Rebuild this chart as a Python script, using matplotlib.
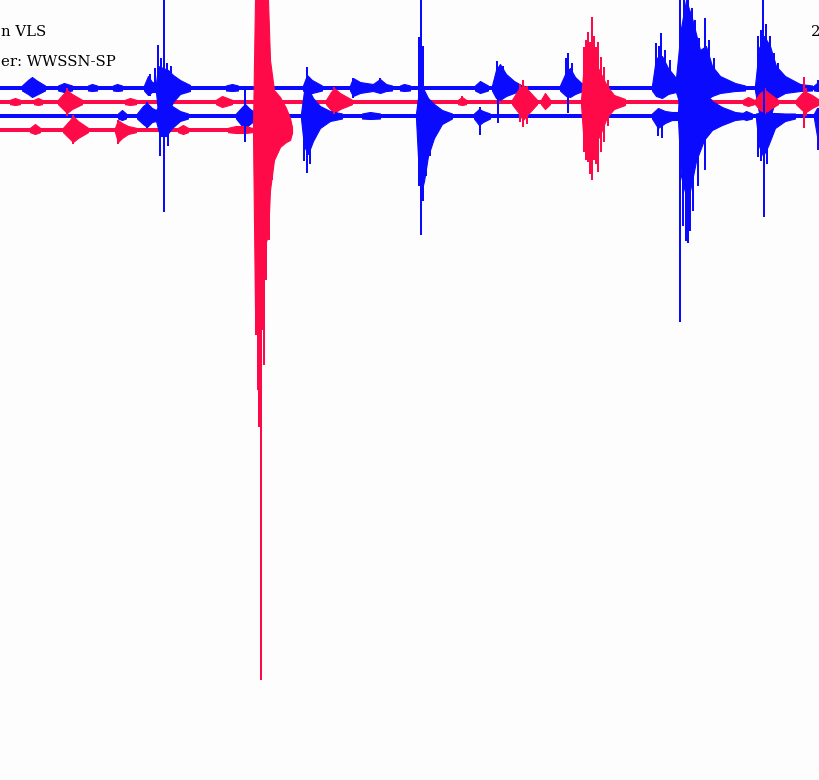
import matplotlib

matplotlib.use("Agg")

import matplotlib.pyplot as plt

# 4 helicorder lines (cropped view), x = time column, y = offset from top
trace_base = [88, 102, 116, 130]
trace_end = [820, 820, 820, 292]
trace_noise = [2.4, 2.2, 2.4, 2.2]
trace_color = ["#0a0aff", "#ff0a48", "#0a0aff", "#ff0a48"]

# envelope key points per event: (x, amplitude up, amplitude down)
t1_events = [
    [(22, 2.5, 2.5), (28, 8, 6), (32, 11, 9), (36, 8, 7), (45, 2.5, 2.5)],
    [(58, 2.5, 2.5), (64, 5, 4), (72, 2.5, 2.5)],
    [(88, 2.5, 2.5), (92, 4, 3), (97, 2.5, 2.5)],
    [(113, 2.5, 2.5), (117, 4, 3), (122, 2.5, 2.5)],
    [(144, 2.5, 2.5), (148, 12, 7), (152, 6, 4), (156, 5, 4), (158, 22, 25),
     (163, 20, 30), (168, 18, 25), (173, 13, 14), (180, 8, 6), (190, 3, 3)],
    [(226, 2.5, 2.5), (232, 4, 3), (238, 2.5, 2.5)],
    [(303, 2.5, 2.5), (307, 13, 6), (312, 8, 5), (322, 2.5, 2.5)],
    [(350, 2.5, 2.5), (353, 10, 8), (360, 6, 5), (366, 5, 4), (373, 4, 3),
     (380, 9, 5), (386, 4, 3), (392, 2.5, 2.5)],
    [(400, 2.5, 2.5), (404, 4, 3), (410, 2.5, 2.5)],
    [(475, 2.5, 2.5), (480, 7, 5), (488, 2.5, 2.5)],
    [(492, 2.5, 2.5), (496, 18, 10), (500, 24, 12), (506, 14, 8), (514, 7, 5), (522, 2.5, 2.5)],
    [(560, 2.5, 2.5), (566, 16, 8), (570, 20, 9), (575, 11, 6), (584, 2.5, 2.5)],
    [(652, 2.5, 2.5), (656, 30, 8), (662, 32, 10), (668, 20, 6), (676, 10, 4),
     (681, 60, 20), (686, 88, 30), (692, 70, 25), (700, 38, 15), (706, 42, 12),
     (712, 22, 8), (720, 12, 5), (735, 5, 3), (745, 2.5, 2.5)],
    [(755, 2.5, 2.5), (759, 40, 25), (764, 52, 40), (770, 42, 30), (776, 22, 10),
     (785, 12, 5), (800, 4, 3), (812, 2.5, 2.5)],
    [(814, 2.5, 2.5), (818, 6, 3), (820, 5, 3)],
]
t2_events = [
    [(10, 2.2, 2.2), (15, 4, 3), (20, 2.2, 2.2)],
    [(34, 2.2, 2.2), (38, 4, 3), (42, 2.2, 2.2)],
    [(58, 2.2, 2.2), (64, 9, 8), (67, 12, 11), (72, 8, 7), (82, 2.2, 2.2)],
    [(125, 2.2, 2.2), (130, 4, 3), (136, 2.2, 2.2)],
    [(216, 2.2, 2.2), (222, 6, 5), (232, 2.2, 2.2)],
    [(326, 2.2, 2.2), (331, 10, 8), (334, 14, 11), (340, 9, 7), (352, 2.2, 2.2)],
    [(458, 2.2, 2.2), (462, 5, 3), (466, 2.2, 2.2)],
    [(512, 2.2, 2.2), (518, 12, 10), (523, 17, 18), (528, 12, 12), (537, 2.2, 2.2)],
    [(541, 2.2, 2.2), (545, 9, 7), (550, 2.2, 2.2)],
    [(581, 2.2, 2.2), (584, 40, 45), (590, 45, 48), (595, 40, 42), (600, 30, 33),
     (607, 16, 15), (614, 7, 7), (625, 3, 3)],
    [(698, 2.2, 2.2), (703, 6, 5), (712, 2.2, 2.2)],
    [(743, 2.2, 2.2), (748, 5, 4), (754, 2.2, 2.2)],
    [(755, 2.2, 2.2), (760, 9, 8), (765, 12, 11), (770, 8, 7), (778, 2.2, 2.2)],
    [(796, 2.2, 2.2), (802, 9, 8), (806, 10, 10), (812, 7, 6), (818, 3, 3)],
]
t3_events = [
    [(118, 2.5, 2.5), (122, 6, 4), (126, 2.5, 2.5)],
    [(137, 2.5, 2.5), (143, 10, 8), (147, 13, 11), (152, 8, 6), (156, 6, 5),
     (160, 12, 20), (166, 14, 20), (172, 10, 12), (180, 5, 5), (188, 2.5, 2.5)],
    [(236, 2.5, 2.5), (242, 9, 10), (245, 12, 12), (250, 7, 8), (256, 3, 3)],
    [(301, 2.5, 2.5), (304, 25, 30), (308, 28, 38), (313, 18, 25), (320, 10, 12),
     (330, 5, 5), (342, 2.5, 2.5)],
    [(362, 2.5, 2.5), (370, 4, 3), (380, 2.5, 2.5)],
    [(416, 2.5, 2.5), (419, 26, 60), (421, 30, 77), (424, 26, 65), (428, 18, 40),
     (434, 12, 22), (442, 6, 8), (452, 2.5, 2.5)],
    [(474, 2.5, 2.5), (479, 7, 9), (483, 5, 6), (490, 2.5, 2.5)],
    [(652, 2.5, 2.5), (658, 8, 12), (665, 5, 7), (672, 4, 4), (678, 4, 4),
     (681, 60, 60), (686, 80, 80), (690, 70, 75), (696, 45, 45), (704, 25, 24),
     (712, 15, 14), (722, 9, 9), (735, 4, 4), (748, 2.5, 2.5)],
    [(742, 2.5, 2.5), (746, 5, 4), (752, 2.5, 2.5)],
    [(756, 2.5, 2.5), (759, 3, 30), (763, 4, 40), (768, 3, 30), (775, 3, 12),
     (785, 2.5, 5), (795, 2.5, 2.5)],
    [(814, 2.5, 2.5), (817, 8, 20), (820, 8, 15)],
]
t4_events = [
    [(30, 2.2, 2.2), (35, 6, 4), (40, 2.2, 2.2)],
    [(63, 2.2, 2.2), (70, 10, 9), (73, 14, 12), (78, 9, 8), (88, 2.2, 2.2)],
    [(115, 2.2, 2.2), (118, 10, 12), (122, 7, 8), (128, 4, 4), (136, 2.2, 2.2)],
    [(178, 2.2, 2.2), (183, 5, 4), (188, 2.2, 2.2)],
    [(228, 2.2, 2.2), (236, 4, 3), (245, 4, 3), (252, 2.2, 2.2)],
    [(253, 2.2, 2.2), (255, 130, 180), (258, 130, 120), (262, 130, 120),
     (265, 130, 115), (268, 130, 105), (270, 70, 60), (274, 40, 30),
     (280, 33, 17), (286, 22, 12), (290, 12, 10), (292, 3, 3)],
]

# isolated thin peaks: (x, up, down)
t1_spikes = [(150, 14, 8), (155, 20, 0), (158, 43, 0), (161, 30, 0), (164, 88, 0),
             (167, 25, 0), (171, 22, 0), (307, 21, 0), (353, 10, 10), (380, 10, 0),
             (498, 0, 35), (497, 27, 0), (503, 22, 0), (566, 30, 0), (568, 35, 25),
             (572, 25, 0), (656, 45, 0), (659, 42, 0), (661, 55, 0), (665, 38, 0),
             (670, 28, 0), (684, 88, 0), (688, 88, 0), (692, 80, 0), (695, 68, 0),
             (699, 50, 0), (705, 70, 0), (709, 48, 0), (714, 30, 0),
             (758, 52, 0), (761, 58, 0), (763, 88, 0), (766, 64, 0), (770, 52, 0),
             (774, 35, 0), (778, 25, 0), (818, 8, 0)]
t2_spikes = [(67, 14, 14), (334, 15, 12), (462, 6, 0), (520, 18, 20), (523, 22, 25),
             (527, 16, 22), (584, 55, 50), (586, 62, 58), (588, 70, 60), (590, 60, 72),
             (592, 85, 78), (594, 66, 58), (596, 55, 62), (598, 60, 70), (601, 45, 50),
             (604, 35, 40), (608, 22, 24), (765, 14, 12), (804, 25, 26), (806, 14, 14)]
t3_spikes = [(147, 14, 12), (164, 0, 96), (160, 0, 40), (168, 0, 30), (245, 26, 26),
             (304, 0, 45), (307, 49, 57), (310, 0, 48), (419, 79, 70), (421, 116, 119),
             (423, 70, 85), (426, 0, 60), (430, 0, 40), (480, 9, 19),
             (658, 0, 20), (662, 0, 22), (680, 116, 206), (683, 0, 110),
             (686, 0, 125), (688, 30, 127), (690, 0, 115), (693, 0, 95),
             (698, 0, 70), (705, 98, 54), (758, 0, 41), (761, 0, 45),
             (764, 30, 101), (767, 0, 48), (818, 0, 34)]
t4_spikes = [(73, 15, 14), (118, 10, 14), (256, 0, 205), (258, 0, 260),
             (259, 0, 297), (260, 0, 280), (261, 0, 550), (262, 0, 200),
             (264, 0, 235), (266, 0, 150), (269, 70, 110), (272, 55, 50)]

all_events = [t1_events, t2_events, t3_events, t4_events]
all_spikes = [t1_spikes, t2_spikes, t3_spikes, t4_spikes]

header_left = ["n VLS", "er: WWSSN-SP"]
header_right = "2"

fig = plt.figure(figsize=(8.2, 7.8), dpi=100, facecolor="#fdfdfd")
ax = fig.add_axes([0, 0, 1, 1])
ax.set_facecolor("#fdfdfd")
ax.set_xlim(0, 820)
ax.set_ylim(780, 0)
ax.axis("off")

# quiet background band of every line first
for base, end, n, c in zip(trace_base, trace_end, trace_noise, trace_color):
    ax.fill_between([0, end], [base - n] * 2, [base + n] * 2, color=c, lw=0)

# then the events, line by line (no antialiasing: crisp like the plotter output)
for base, c, events, spikes in zip(trace_base, trace_color, all_events, all_spikes):
    for ev in events:
        xs = [p[0] for p in ev]
        ax.fill_between(xs, [base - p[1] for p in ev], [base + p[2] for p in ev],
                        color=c, lw=0.8, edgecolor=c)
    for x, up, down in spikes:
        ax.vlines(x, base - up, base + down, color=c, lw=1.1, antialiased=False)

ax.text(1, 36, header_left[0], family="DejaVu Serif", fontsize=10.7, color="black")
ax.text(1, 66, header_left[1], family="DejaVu Serif", fontsize=10.7, color="black")
ax.text(811, 36, header_right, family="DejaVu Serif", fontsize=10.7, color="black")

fig.savefig("out.png", dpi=100, facecolor=fig.get_facecolor())
plt.close(fig)
